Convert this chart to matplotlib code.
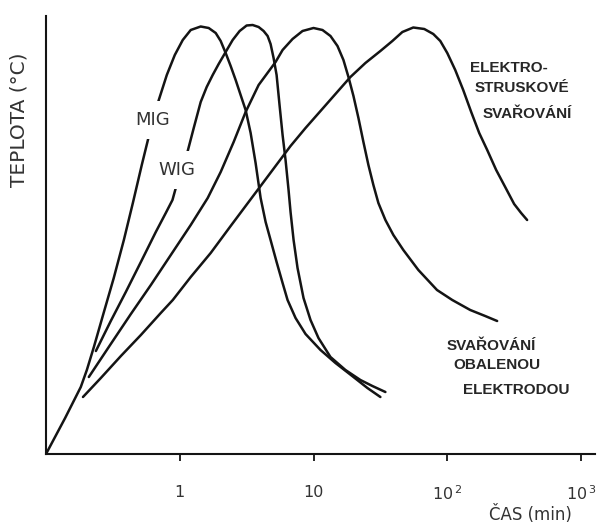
import matplotlib
matplotlib.use("Agg")
import matplotlib.pyplot as plt

# ---- data: time in minutes, temperature in relative units (the axis carries no values) ----
mig_t = [0.1, 0.139, 0.182, 0.202, 0.228, 0.271, 0.321, 0.382, 0.446, 0.520, 0.608, 0.697,
         0.800, 0.918, 1.053, 1.208, 1.434, 1.646, 1.857, 2.023, 2.204, 2.402, 2.618, 2.852,
         3.108, 3.388, 3.690, 4.023, 4.385, 4.776, 5.297, 5.872, 6.397, 7.341, 8.717, 11.28,
         14.59, 19.89, 25.29, 31.62]
mig_T = [0, 36, 67, 84, 107, 142, 176, 214, 251, 289, 326, 354,
         379, 399, 414, 424, 427.5, 426, 421, 413, 401, 388, 374, 359,
         344, 321, 291, 256, 232, 214, 192, 171, 154, 136, 120, 104,
         91, 77, 66, 57]

wig_t = [0.236, 0.305, 0.395, 0.512, 0.662, 0.786, 0.882, 0.961, 1.053, 1.142, 1.272, 1.434,
         1.590, 1.763, 1.954, 2.204, 2.486, 2.804, 3.162, 3.506, 3.887, 4.236, 4.539, 4.776,
         5.029, 5.297, 5.572, 5.872, 6.180, 6.507, 6.735, 7.096, 7.596, 8.420, 9.497, 10.89,
         13.39, 17.33, 22.43, 27.56, 34.47]
wig_T = [103, 133, 162, 192, 222, 241, 254, 272, 288, 302, 326, 352,
         367, 379, 390, 402, 414, 423, 428.5, 429, 427, 423, 418, 410,
         396, 379, 349, 319, 294, 264, 242, 214, 186, 156, 134, 116,
         97, 84, 74, 68, 62]

obal_t = [0.209, 0.305, 0.431, 0.608, 0.857, 1.208, 1.618, 2.023, 2.529, 3.108, 3.887, 5.204,
          5.872, 6.970, 8.277, 10.0, 11.67, 13.39, 15.11, 16.74, 18.25, 19.89, 21.67, 23.61,
          25.73, 28.03, 30.55, 34.47, 39.54, 46.94, 60.8, 83.8, 109, 148.5, 192, 236]
obal_T = [77, 110, 140, 169, 199, 229, 256, 282, 312, 342, 369, 392,
          404, 415, 423, 426, 424, 418, 408, 394, 377, 358, 336, 312,
          289, 269, 251, 234, 219, 204, 184, 164, 154, 144, 138, 133]

elektro_t = [0.189, 0.257, 0.363, 0.512, 0.721, 0.887, 1.208, 1.703, 2.402, 3.272, 4.023, 5.204,
             6.735, 8.717, 11.28, 14.59, 18.88, 24.43, 31.62, 38.87, 46.16, 55.7, 67.3, 78.6,
             88.7, 100, 114.7, 131.6, 151.0, 173.3, 198.9, 232.1, 271.0, 316.2, 356.6, 395.4]
elektro_T = [57, 76, 98, 119, 141, 154, 177, 201, 228, 252, 268, 288,
             308, 326, 343, 360, 377, 391, 403, 413, 422, 426.5, 425, 420,
             413, 401, 384, 364, 342, 321, 304, 284, 267, 250, 241, 234]

x_ticks = [1, 10, 100, 1000]
x_tick_labels = ["1", "10", "10$^{\\,2}$", "10$^{\\,3}$"]

x_label = "ČAS (min)"
y_label = "TEPLOTA (°C)"
label_mig = "MIG"
label_wig = "WIG"
label_elektro = ["ELEKTRO-", "STRUSKOVÉ", "SVAŘOVÁNÍ"]
label_obal = ["SVAŘOVÁNÍ", "OBALENOU", "ELEKTRODOU"]

# ---- figure ----
W, H = 606, 524
fig = plt.figure(figsize=(W / 100, H / 100), dpi=100)
L, R, B, T = 46, 595, 454, 16
ax = fig.add_axes([L / W, 1 - B / H, (R - L) / W, (B - T) / H])

ink = "#141414"
lw = 1.8
for t, v in [(mig_t, mig_T), (wig_t, wig_T), (obal_t, obal_T), (elektro_t, elektro_T)]:
    ax.plot(t, v, color=ink, lw=lw, solid_capstyle="round", solid_joinstyle="round", zorder=2)

ax.set_xscale("log")
ax.set_xlim(0.1, 10 ** ((R - 179) / 134))
ax.set_ylim(0, B - T)

for s in ["top", "right"]:
    ax.spines[s].set_visible(False)
for s in ["left", "bottom"]:
    ax.spines[s].set_linewidth(1.5)
    ax.spines[s].set_color(ink)

ax.set_xticks(x_ticks)
ax.set_xticklabels(x_tick_labels)
ax.xaxis.set_minor_locator(matplotlib.ticker.NullLocator())
ax.tick_params(axis="x", direction="out", length=5, width=1.3, color=ink,
               labelsize=11.5, labelcolor="#333333", pad=17)
ax.set_yticks([])

ax.set_xlabel(x_label, fontsize=12, color="#333333")
ax.xaxis.set_label_coords((530 - L) / (R - L), (B - 514) / (B - T))
ax.xaxis.label.set_verticalalignment("center")
ax.set_ylabel(y_label, fontsize=14.5, color="#333333")
ax.yaxis.set_label_coords((19 - L) / (R - L), (B - 120) / (B - T))
ax.yaxis.label.set_verticalalignment("center")


def axpos(px, py):
    return ((px - L) / (R - L), (B - py) / (B - T))


box = dict(boxstyle="square,pad=0.55", facecolor="white", edgecolor="none")
ax.text(*axpos(153, 120), label_mig, transform=ax.transAxes, ha="center", va="center",
        fontsize=13, color="#333333", bbox=box, zorder=3)
ax.text(*axpos(177, 170), label_wig, transform=ax.transAxes, ha="center", va="center",
        fontsize=13, color="#333333", bbox=box, zorder=3)

for (px, py), s in zip([(470, 67.5), (475, 88), (483, 114)], label_elektro):
    ax.text(*axpos(px, py), s, transform=ax.transAxes, ha="left", va="center",
            fontsize=11, fontweight="bold", family="Liberation Sans", color="#262626")
for (px, py), s in zip([(447, 346), (453, 365), (463, 390)], label_obal):
    ax.text(*axpos(px, py), s, transform=ax.transAxes, ha="left", va="center",
            fontsize=11, fontweight="bold", family="Liberation Sans", color="#262626")

fig.savefig("out.png", dpi=100, facecolor="white")
